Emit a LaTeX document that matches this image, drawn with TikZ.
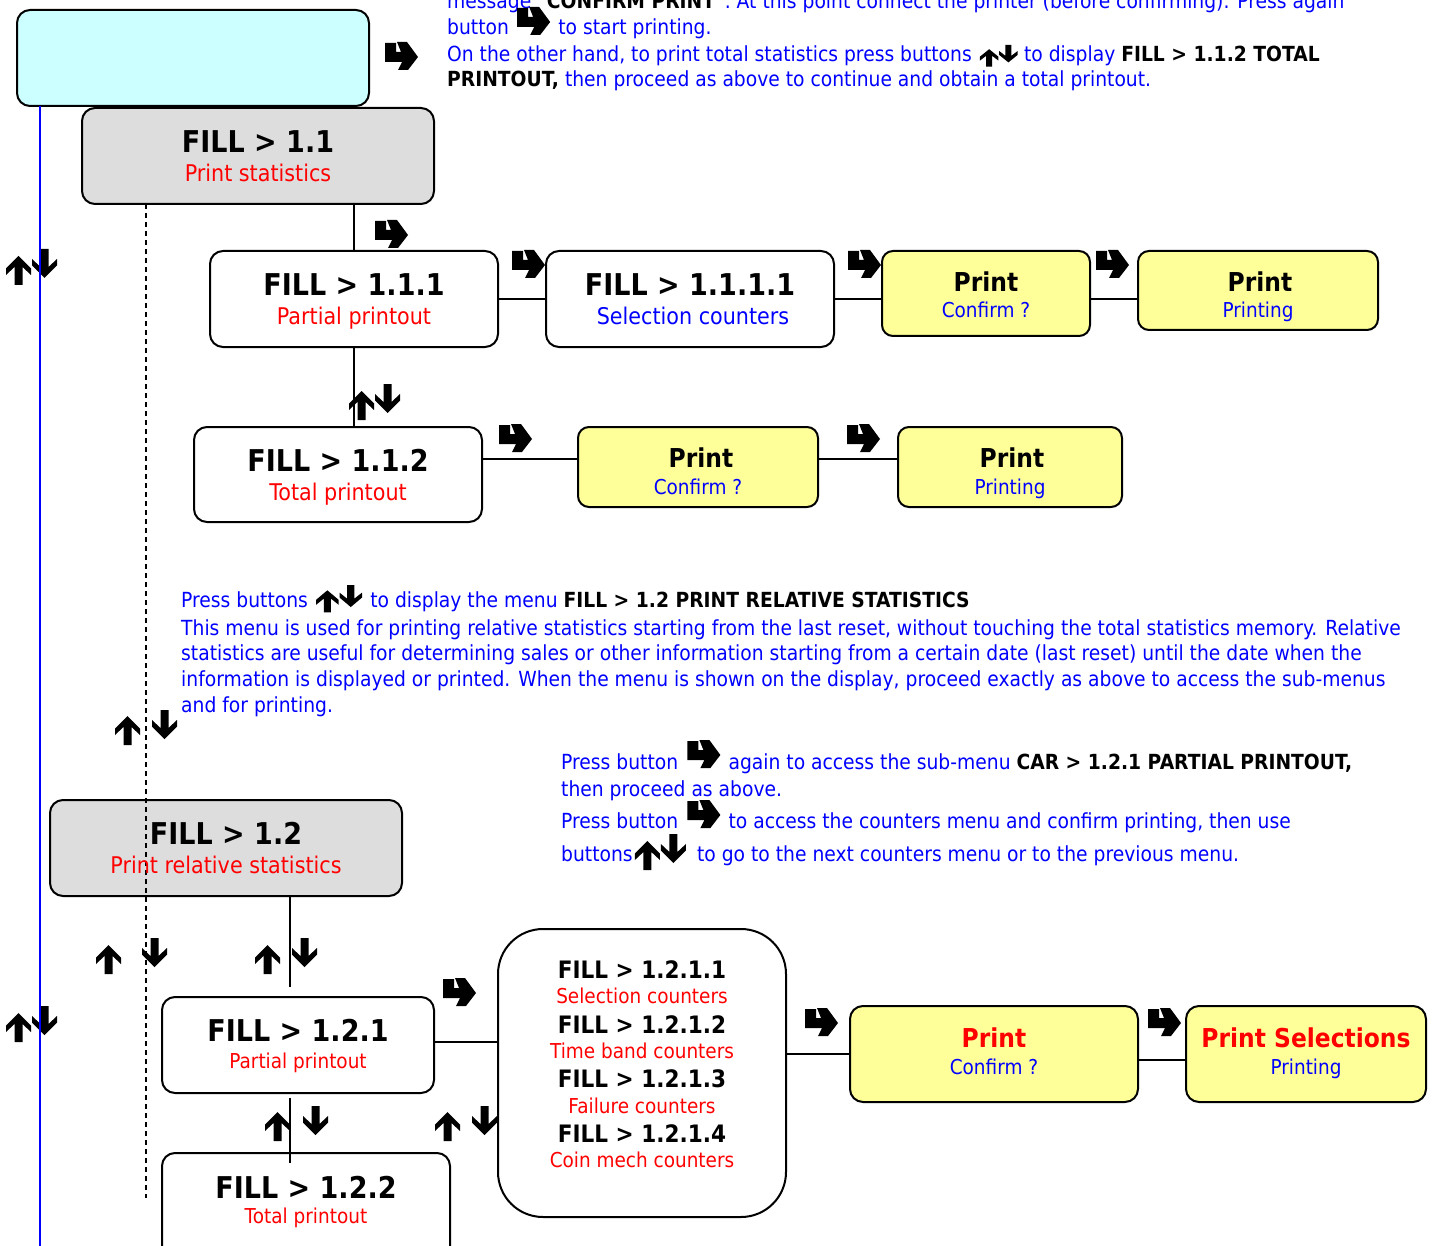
\documentclass[tikz,border=0pt]{standalone}
\usepackage{fontspec}
\setmainfont{DejaVu Sans}[FakeStretch=0.9]
\usetikzlibrary{calc,fit}
\definecolor{cyanbox}{HTML}{CCFFFF}
\definecolor{graybox}{HTML}{DDDDDD}
\definecolor{yelbox}{HTML}{FFFF99}
\definecolor{txtblue}{HTML}{0000FF}
\definecolor{txtred}{HTML}{FF0000}
\newcommand\fsz[1]{\fontsize{#1}{#1}\selectfont}
\newcommand\kb[1]{\textbf{\color{black}#1}}
\newcommand\updnshape{%
  \fill[black] (12.5,7) -- (25,19.5) -- (25,26) -- (16.5,18) -- (16.5,36) -- (8.5,36) -- (8.5,18) -- (0,26) -- (0,19.5) -- cycle;
  \fill[black] (38.5,29) -- (51,16.5) -- (51,10) -- (42.5,18) -- (42.5,0) -- (34.5,0) -- (34.5,18) -- (26,10) -- (26,16.5) -- cycle;}
\begin{document}
\begin{tikzpicture}[x=1pt,y=-1pt,
  box/.style={draw=black, line width=2pt, rounded corners=13pt, inner sep=0pt, outer sep=0pt},
  conn/.style={draw=black, line width=2pt},
  ttl/.style={font=\fsz{30}\bfseries, text=black, anchor=base, inner sep=0pt},
  sttl/.style={font=\fsz{24}\bfseries, text=black, anchor=base, inner sep=0pt},
  prt/.style={font=\fsz{26}\bfseries, text=black, anchor=base, inner sep=0pt},
  sub/.style={font=\fsz{23}, text=txtred, anchor=base, inner sep=0pt},
  ssub/.style={font=\fsz{20.5}, text=txtred, anchor=base, inner sep=0pt},
  body/.style={font=\fsz{20.8}, text=txtblue, anchor=base west, inner sep=0pt},
  hook/.pic={\fill[black] (0,1) -- (11,1) -- (11,10) -- (16,10) -- (12,0) -- (22,0) -- (33,15) -- (23,28) -- (13,28) -- (17,20) -- (0,20) -- cycle;},
  uparr/.pic={\fill[black] (12.5,0) -- (25,12.5) -- (25,19) -- (16.5,11) -- (16.5,29) -- (8.5,29) -- (8.5,11) -- (0,19) -- (0,12.5) -- cycle;},
  dnarr/.pic={\fill[black] (12.5,29) -- (25,16.5) -- (25,10) -- (16.5,18) -- (16.5,0) -- (8.5,0) -- (8.5,18) -- (0,10) -- (0,16.5) -- cycle;},
  updn/.pic={\updnshape}
]
\useasboundingbox (0,0) rectangle (1434,1246);
\fill[white] (0,0) rectangle (1434,1246);

% boxes
\node[box, fill=cyanbox, fit={(17,10) (369,106)}] (cyan) {};
\node[box, fill=graybox, fit={(82,108) (434,204)}] (b11) {};
\node[box, fill=white, fit={(210,251) (498,347)}] (b111) {};
\node[box, fill=white, fit={(546,251) (834,347)}] (b1111) {};
\node[box, fill=yelbox, rounded corners=11pt, fit={(882,251) (1090,336)}] (p1) {};
\node[box, fill=yelbox, rounded corners=11pt, fit={(1138,251) (1378,330)}] (p2) {};
\node[box, fill=white, fit={(194,427) (482,522)}] (b112) {};
\node[box, fill=yelbox, rounded corners=11pt, fit={(578,427) (818,507)}] (p3) {};
\node[box, fill=yelbox, rounded corners=11pt, fit={(898,427) (1122,507)}] (p4) {};
\node[box, fill=graybox, fit={(50,800) (402,896)}] (b12) {};
\node[box, fill=white, fit={(162,997) (434,1093)}] (b121) {};
\node[box, fill=white, fit={(162,1153) (450,1262)}] (b122) {};
\node[box, fill=white, rounded corners=45pt, fit={(498,929) (786,1217)}] (big) {};
\node[box, fill=yelbox, fit={(850,1006) (1138,1102)}] (p5) {};
\node[box, fill=yelbox, fit={(1186,1006) (1426,1102)}] (p6) {};

% glyphs
\pic at (385,42) {hook};
\pic at (375,220) {hook};
\pic at (512,250) {hook};
\pic at (848,250) {hook};
\pic at (1096,250) {hook};
\pic at (499,424) {hook};
\pic at (847,424) {hook};
\pic at (443,978) {hook};
\pic at (805,1008) {hook};
\pic at (1148,1008) {hook};
\pic at (6,249) {updn};
\pic at (349,384) {updn};
\pic at (115,716) {uparr};
\pic at (152,710) {dnarr};
\pic at (6,1006) {updn};
\pic at (96,945) {uparr};
\pic at (142,938) {dnarr};
\pic at (255,945) {uparr};
\pic at (292,938) {dnarr};
\pic at (265,1112) {uparr};
\pic at (303,1106) {dnarr};
\pic at (435,1112) {uparr};
\pic at (472,1106) {dnarr};

% connectors
\draw[conn] (b111.north) -- (b111.north |- b11.south);
\draw[conn] (b111.south) -- (b111.south |- b112.north);
\draw[conn] (b111.east) -- (b1111.west);
\draw[conn] (b1111.east) -- (b1111.east -| p1.west);
\draw[conn] (b1111.east -| p1.east) -- (b1111.east -| p2.west);
\coordinate (row2) at (0,459);
\draw[conn] (row2 -| b112.east) -- (row2 -| p3.west);
\draw[conn] (row2 -| p3.east) -- (row2 -| p4.west);
\coordinate (j12) at (290,987);
\draw[conn] (j12 |- b12.south) -- (j12);
\coordinate (k1) at (290,1098);
\coordinate (k2) at (290,1163);
\draw[conn] (k1) -- (k2);
\coordinate (row5) at (0,1042);
\draw[conn] (row5 -| b121.east) -- (row5 -| big.west);
\coordinate (row6) at (0,1054);
\draw[conn] (row6 -| big.east) -- (row6 -| p5.west);
\coordinate (row7) at (0,1060);
\draw[conn] (row7 -| p5.east) -- (row7 -| p6.west);
\coordinate (blueEnd) at (40,1246);
\draw[line width=2pt, txtblue] (cyan.south -| blueEnd) -- (blueEnd);
\coordinate (dashEnd) at (146,1198);
\draw[line width=2pt, dash pattern=on 5pt off 4pt] (b11.south -| dashEnd) -- (dashEnd);

% box texts
\node[ttl] (t11) at (258,153) {FILL > 1.1};
\node[sub] (s11) at (258,182) {Print statistics};
\node[ttl] (t111) at (354,296) {FILL > 1.1.1};
\node[sub] (s111) at (354,325) {Partial printout};
\node[ttl] (t1111) at (690,296) {FILL > 1.1.1.1};
\node[sub, text=txtblue] (s1111) at (693,325) {Selection counters};
\node[prt] (tp1) at (986,292) {Print};
\node[ssub, text=txtblue] (sp1) at (986,318) {Confirm ?};
\node[prt] (tp2) at (1260,292) {Print};
\node[ssub, text=txtblue] (sp2) at (1258,318) {Printing};
\node[ttl] (t112) at (338,471) {FILL > 1.1.2};
\node[sub] (s112) at (338,500) {Total printout};
\node[prt] (tp3) at (701,467) {Print};
\node[ssub, text=txtblue] (sp3) at (698,494) {Confirm ?};
\node[prt] (tp4) at (1012,467) {Print};
\node[ssub, text=txtblue] (sp4) at (1010,494) {Printing};
\node[ttl] (t12) at (226,844) {FILL > 1.2};
\node[sub] (s12) at (226,873) {Print relative statistics};
\node[ttl] (t121) at (298,1041) {FILL > 1.2.1};
\node[ssub] (s121) at (298,1068) {Partial printout};
\node[ttl] (t122) at (306,1198) {FILL > 1.2.2};
\node[ssub] (s122) at (306,1223) {Total printout};
\node[sttl] (c1) at (642,978) {FILL > 1.2.1.1};
\node[ssub] (d1) at (642,1003) {Selection counters};
\node[sttl] (c2) at (642,1033) {FILL > 1.2.1.2};
\node[ssub] (d2) at (642,1058) {Time band counters};
\node[sttl] (c3) at (642,1087) {FILL > 1.2.1.3};
\node[ssub] (d3) at (642,1113) {Failure counters};
\node[sttl] (c4) at (642,1142) {FILL > 1.2.1.4};
\node[ssub] (d4) at (642,1167) {Coin mech counters};
\node[prt, text=txtred] (tp5) at (994,1047) {Print};
\node[ssub, text=txtblue] (sp5) at (994,1074) {Confirm ?};
\node[prt, text=txtred] (tp6) at (1306,1047) {Print Selections};
\node[ssub, text=txtblue] (sp6) at (1306,1074) {Printing};

% top text
\node[body] (x1) at (447,9) {message “\kb{CONFIRM PRINT}”. At this point connect the printer (before confirming). Press again};
\node[body] (x2a) at (447,35) {button};
\pic at ($(x2a.base east)+(8,-28)$) {hook};
\node[body] (x2b) at ($(x2a.base east)+(49,0)$) {to start printing.};
\node[body] (x3a) at (447,62) {On the other hand, to print total statistics press buttons};
\begin{scope}[shift={($(x3a.base east)+(8,-17)$)}, xscale=0.74, yscale=0.6]
  \updnshape
\end{scope}
\node[body] (x3b) at ($(x3a.base east)+(52,0)$) {to display \kb{FILL > 1.1.2 TOTAL}};
\node[body] (x4) at (447,87) {\kb{PRINTOUT,} then proceed as above to continue and obtain a total printout.};

% middle text
\node[body] (m1a) at (181,607) {Press buttons};
\begin{scope}[shift={($(m1a.base east)+(8,-22)$)}, xscale=0.9, yscale=0.76]
  \updnshape
\end{scope}
\node[body] (m1b) at ($(m1a.base east)+(62,0)$) {to display the menu \kb{FILL > 1.2 PRINT RELATIVE STATISTICS}};
\node[body] (m2) at (181,635) {This menu is used for printing relative statistics starting from the last reset, without touching the total statistics memory. Relative};
\node[body] (m3) at (181,660) {statistics are useful for determining sales or other information starting from a certain date (last reset) until the date when the};
\node[body] (m4) at (181,686) {information is displayed or printed. When the menu is shown on the display, proceed exactly as above to access the sub-menus};
\node[body] (m5) at (181,712) {and for printing.};

% right text
\node[body] (r1a) at (561,769) {Press button};
\pic at ($(r1a.base east)+(9,-29)$) {hook};
\node[body] (r1b) at ($(r1a.base east)+(50,0)$) {again to access the sub-menu \kb{CAR > 1.2.1 PARTIAL PRINTOUT,}};
\node[body] (r2) at (561,796) {then proceed as above.};
\node[body] (r3a) at (561,828) {Press button};
\pic at ($(r3a.base east)+(9,-28)$) {hook};
\node[body] (r3b) at ($(r3a.base east)+(50,0)$) {to access the counters menu and confirm printing, then use};
\node[body] (r4a) at (561,861) {buttons};
\pic at ($(r4a.base east)+(2,-27)$) {updn};
\node[body] (r4b) at ($(r4a.base east)+(64,0)$) {to go to the next counters menu or to the previous menu.};
\end{tikzpicture}
\end{document}
